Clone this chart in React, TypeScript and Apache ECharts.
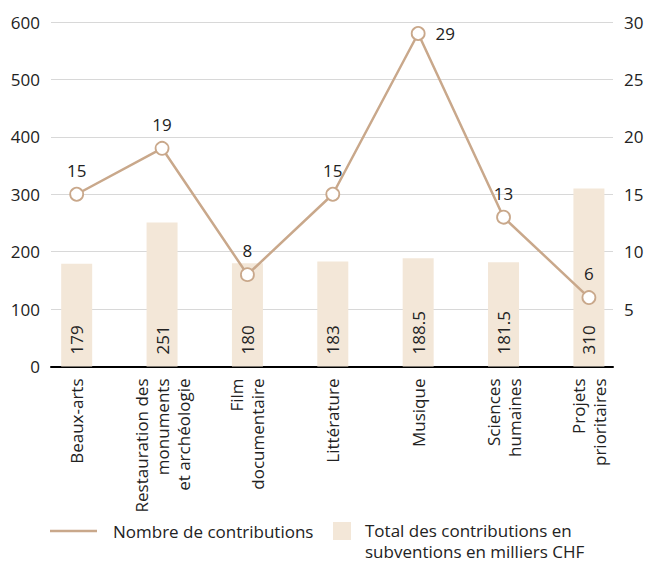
import React, { useEffect, useRef } from "react";
import * as echarts from "echarts";

const categories = [
  "Beaux-arts",
  "Restauration des\nmonuments\net archéologie",
  "Film\ndocumentaire",
  "Littérature",
  "Musique",
  "Sciences\nhumaines",
  "Projets\nprioritaires",
];
const totals = [179, 251, 180, 183, 188.5, 181.5, 310];
const counts = [15, 19, 8, 15, 29, 13, 6];
const lineName = "Nombre de contributions";
const barName = "Total des contributions en\nsubventions en milliers CHF";

const FONT = "'Open Sans', 'Noto Sans', sans-serif";
const TEXT = "#222";
const LINE = "#c9a88b";
const BAR = "#f3e7d8";
const FS = 17;

export default function App() {
  const ref = useRef<HTMLDivElement>(null);
  useEffect(() => {
    if (!ref.current) return;
    const chart = echarts.init(ref.current, undefined, { renderer: "svg" });
    chart.setOption({
      animation: false,
      textStyle: { fontFamily: FONT },
      grid: [
        { left: 34, right: 16.4, top: 22, bottom: 195.5 },
        { left: 51, right: 35, top: 22, bottom: 195.5 },
      ],
      xAxis: [
        {
          type: "category",
          gridIndex: 0,
          data: categories,
          axisLine: { show: false },
          axisTick: { show: false },
          axisLabel: {
            rotate: 90,
            interval: 0,
            margin: 12,
            fontSize: FS,
            lineHeight: 21,
            color: TEXT,
            fontFamily: FONT,
            align: "right",
          },
        },
        {
          type: "value",
          gridIndex: 1,
          min: 0,
          max: 1,
          axisLine: { show: true, onZero: false, lineStyle: { color: "#000", width: 2 } },
          axisTick: { show: false },
          axisLabel: { show: false },
          splitLine: { show: false },
        },
      ],
      yAxis: [
        {
          type: "value",
          gridIndex: 1,
          position: "left",
          min: 0,
          max: 600,
          interval: 100,
          axisLine: { show: false },
          axisTick: { show: false },
          axisLabel: { fontSize: FS, color: TEXT, margin: 11, fontFamily: FONT },
          splitLine: { lineStyle: { color: "#d8d8d8", width: 1 } },
        },
        {
          type: "value",
          gridIndex: 1,
          position: "right",
          min: 0,
          max: 30,
          interval: 5,
          axisLine: { show: false },
          axisTick: { show: false },
          axisLabel: {
            fontSize: FS,
            color: TEXT,
            margin: 11,
            fontFamily: FONT,
            formatter: (v: number) => (v === 0 ? "" : String(v)),
          },
          splitLine: { show: false },
        },
        {
          type: "value",
          gridIndex: 0,
          min: 0,
          max: 600,
          show: false,
        },
        {
          type: "value",
          gridIndex: 0,
          min: 0,
          max: 30,
          show: false,
        },
      ],
      series: [
        {
          name: barName,
          type: "bar",
          xAxisIndex: 0,
          yAxisIndex: 2,
          data: totals,
          barWidth: 31,
          itemStyle: { color: BAR },
          label: {
            show: true,
            position: "insideBottom",
            rotate: 90,
            align: "left",
            verticalAlign: "middle",
            distance: 12,
            fontSize: FS,
            color: TEXT,
            fontFamily: FONT,
          },
        },
        {
          name: lineName,
          type: "line",
          xAxisIndex: 0,
          yAxisIndex: 3,
          data: counts.map((v, i) =>
            i === 4
              ? { value: v, label: { position: "right", distance: 10 } }
              : v
          ),
          symbol: "circle",
          symbolSize: 13,
          lineStyle: { color: LINE, width: 2.5 },
          itemStyle: { color: "#fff", borderColor: LINE, borderWidth: 1.8 },
          label: {
            show: true,
            position: "top",
            distance: 8,
            fontSize: FS,
            color: TEXT,
            fontFamily: FONT,
          },
          z: 5,
        },
      ],
      graphic: [
        {
          type: "line",
          shape: { x1: 50, y1: 531, x2: 97, y2: 531 },
          style: { stroke: LINE, lineWidth: 2.5 },
        },
        {
          type: "text",
          x: 113,
          y: 531,
          style: {
            text: lineName,
            fontSize: FS,
            fill: TEXT,
            fontFamily: FONT,
            verticalAlign: "middle",
          },
        },
        {
          type: "rect",
          shape: { x: 333, y: 522, width: 18, height: 18 },
          style: { fill: BAR },
        },
        {
          type: "text",
          x: 365,
          y: 520,
          style: {
            text: barName,
            fontSize: FS,
            lineHeight: 21,
            fill: TEXT,
            fontFamily: FONT,
            verticalAlign: "top",
          },
        },
      ],
    });
    return () => chart.dispose();
  }, []);
  return (
    <div
      ref={ref}
      style={{ position: "fixed", left: 0, top: 0, width: 648, height: 562, background: "#fff" }}
    />
  );
}
